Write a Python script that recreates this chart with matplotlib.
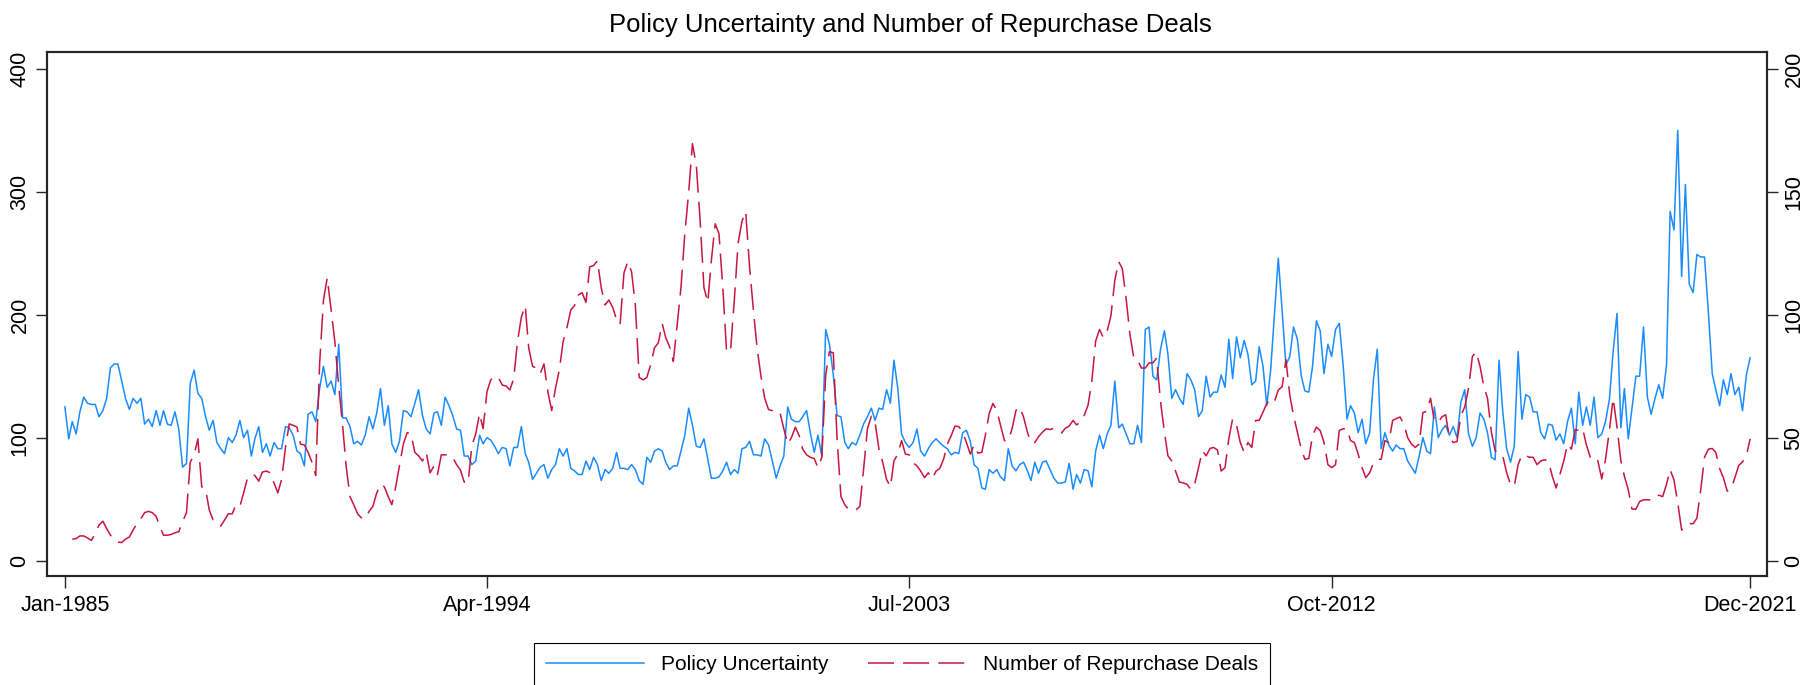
import numpy as np
import pandas as pd
import matplotlib
matplotlib.use('Agg')
import matplotlib.pyplot as plt

plt.rcParams['font.family'] = ['Liberation Sans', 'DejaVu Sans']

months = pd.date_range('1985-01-01', '2021-12-01', freq='MS')

# monthly index, left axis
policy_uncertainty = [
    125, 99, 113, 103, 121, 133, 128, 127, 127, 117, 122, 132, 157, 160, 160, 146, 132, 123, 132, 128,
    132, 111, 115, 109, 122, 110, 122, 111, 110, 121, 107, 76, 79, 144, 155, 136, 132, 117, 106, 114,
    96, 91, 87, 100,
    96, 102, 114, 100, 106, 85, 99, 109, 88, 95, 85, 96, 91, 91, 109, 108, 102, 89, 87, 77,
    119, 121, 113, 140, 158, 141, 146, 135, 176, 116, 116, 109, 95, 97, 94, 102, 117, 107, 120, 140,
    110, 126, 95, 88, 97,
    122, 121, 117, 128, 139, 118, 107, 103, 120, 121, 110, 133, 126, 118, 107, 106, 85, 85, 78, 81,
    102, 95, 100, 98, 93, 87, 92, 91, 77, 92, 92, 109, 87, 80, 66, 71, 76, 78, 67, 74,
    78, 91, 85, 91,
    75, 73, 70, 70, 81, 74, 84, 78, 65, 74, 71, 75, 88, 75, 75, 74, 78, 74, 65, 62,
    84, 80, 89, 91, 89, 80, 74, 77, 77, 89, 102, 124, 110, 93, 92, 99, 82, 67, 67, 68,
    73, 80, 70, 74, 71,
    91, 92, 97, 86, 86, 85, 99, 94, 81, 67, 77, 85, 125, 115, 113, 113, 117, 122, 104, 88,
    102, 85, 188, 176, 151, 118, 117, 96, 91, 96, 94, 102, 111, 117, 124, 114, 124, 123, 139, 128,
    163, 140, 103, 96, 92,
    96, 107, 89, 85, 91, 96, 99, 96, 93, 91, 86, 88, 87, 104, 106, 97, 78, 75, 59, 58,
    74, 71, 74, 68, 65, 91, 77, 73, 78, 80, 73, 65, 80, 71, 80, 81, 74, 67, 63, 63,
    64, 79, 58, 70,
    63, 74, 73, 60, 89, 102, 91, 103, 110, 146, 108, 111, 103, 95, 95, 110, 96, 188, 190, 150,
    147, 172, 187, 168, 132, 139, 132, 127, 152, 147, 139, 117, 122, 150, 133, 137, 137, 151, 141, 180,
    148, 182, 165, 179, 168,
    143, 146, 174, 158, 126, 155, 200, 246, 203, 159, 166, 190, 180, 150, 138, 137, 158, 195, 187, 152,
    176, 166, 188, 193, 159, 115, 126, 120, 104, 115, 95, 104, 148, 172, 91, 104, 94, 89, 94, 91,
    91, 81, 76, 71,
    85, 100, 89, 87, 125, 100, 106, 110, 102, 109, 100, 129, 139, 103, 93, 100, 120, 115, 104, 84,
    82, 163, 121, 91, 80, 93, 170, 115, 135, 133, 121, 121, 104, 99, 111, 110, 98, 103, 95, 113,
    124, 95, 137, 110, 125,
    110, 133, 100, 103, 113, 131, 170, 201, 108, 140, 99, 124, 150, 150, 190, 133, 119, 132, 143, 132,
    159, 284, 269, 350, 231, 306, 225, 218, 249, 247, 247, 202, 152, 139, 126, 147, 135, 152, 135, 141,
    122, 151, 165,
]

# deals per month, right axis (series starts in Mar-1985)
repurchase_deals = [
    np.nan, np.nan,
    8.7, 8.9, 10, 10, 9.2, 8.2, 11, 14.4, 16, 13, 10.3, 8.2, 7.5, 7.3, 8.7, 9.6, 12.4, 15,
    17, 19.5, 20, 19.5, 18, 13.7, 10.3, 10.3, 10.6, 11.3, 11.7, 15.8, 19.5, 40, 43, 49.5, 30, 29, 20.6, 16.5,
    15.8, 14, 16.5, 19,
    19, 22.7, 22, 27.5, 33.6, 35, 34.6, 32.3, 36, 36.4, 35.7, 31.6, 27.5, 33, 46, 55.6, 55, 54.3, 47.4, 47,
    44, 40, 34.6, 80, 106, 115, 102, 89, 71, 55, 38.5, 26, 22.7, 19, 17.4, 17, 20, 22, 27.5, 31,
    30, 26, 22.7, 30, 38.5,
    47.4, 52, 51.5, 44, 42.6, 40.5, 44, 35.7, 38.5, 35, 43, 43, 43, 42, 39, 36.8, 31.9, 31.6, 46.7, 51.5,
    59.8, 53.6, 68.7, 73.5, 74.9, 74.5, 71.4, 71, 69.4, 74, 89, 99, 103.7, 86.5, 79, 78.3, 76, 80, 68.7, 61,
    70, 77.6, 89, 94.8,
    102, 103.7, 108, 109, 105, 119.5, 120, 122, 111, 104, 106, 103, 98, 96, 117, 121.6, 117.4, 104, 74.5, 73.5,
    74.5, 79.7, 86.5, 88.6, 96.4, 90.7, 87, 81, 96, 111, 133, 150, 169.6, 160.7, 138.7, 111, 105, 122, 137, 133,
    111, 85, 85, 106, 129,
    138, 142, 119.5, 101.6, 86.5, 75, 66, 61.4, 61, 61.3, 60, 53.6, 47.4, 50, 54.3, 50.8, 45.3, 43, 42, 41.5,
    37.8, 42, 75.5, 85, 84.5, 49.5, 26, 22.7, 20.9, 20.3, 20.6, 22, 37, 53.6, 58.7, 56.3, 45.3, 40, 33, 30,
    40.5, 43.3, 48.8, 43.3, 43,
    39.8, 38.5, 36.4, 33.7, 35.7, 33.2, 36.4, 37.4, 41.2, 47.4, 50.8, 54.7, 54.5, 52.2, 48, 43.3, 47, 43.7, 44, 50.8,
    59.8, 63.9, 61, 55, 48.8, 48.8, 53.6, 61, 62.5, 58.4, 52.2, 48, 48, 50.4, 52.2, 53.6, 53.3, 53.8, 52.9, 51.9,
    53.8, 54.7, 57, 55.2,
    56.3, 59, 63.2, 72.8, 89.3, 94, 90.7, 93.4, 99.6, 114, 121.6, 118.8, 106.5, 92, 82.4, 81.7, 78.3, 78.3, 80.4, 80.4,
    82.4, 64.6, 52.2, 42.6, 40.5, 36.4, 31.9, 31.6, 31, 28.8, 31, 37.8, 44.6, 42.6, 45.6, 46, 45, 36.4, 37.8, 49.5,
    57.7, 55, 48, 44, 48,
    46, 57, 57, 60.4, 63.9, 65.7, 64.6, 69.4, 70.7, 81.7, 67.3, 59, 52.2, 45.3, 41.2, 41.5, 50.8, 54.3, 52.9, 48,
    39, 37.8, 39, 52.9, 53.6, 53.6, 48.8, 48, 43.3, 37.8, 33.7, 35.7, 39.8, 41.2, 41.2, 48.8, 48, 57, 57.7, 58.4,
    55.6, 50, 47.4, 46,
    47.4, 60.2, 60.7, 66, 56.6, 56.3, 58.4, 59.3, 50, 48, 48.4, 59, 62.5, 70, 83, 85, 79, 70.7, 66, 52.2,
    44.6, 44, 42.6, 35.7, 31, 30.2, 39, 43, 42.6, 42, 42, 39, 40.5, 41, 40.5, 34.3, 29.5, 35, 40.5, 47.4,
    45.3, 53.3, 52.9, 53.8, 47,
    42, 42.6, 40.5, 33.2, 41.2, 52.9, 66, 54.3, 40.5, 34.3, 28.8, 20.9, 20.9, 24, 24.7, 24.7, 24.7, 25, 26.6, 26,
    31, 37, 32.7, 23.4, 12.4, 13.7, 15, 15, 17.2, 28.8, 42, 45.3, 45.6, 44, 37.4, 33.7, 28.2, 29.1, 33.7, 38.7,
    40.1, 42.6, 49.5,
]

tick_dates = pd.to_datetime(['1985-01-01', '1994-04-01', '2003-07-01', '2012-10-01', '2021-12-01'])
tick_labels = ['Jan-1985', 'Apr-1994', 'Jul-2003', 'Oct-2012', 'Dec-2021']
left_ticks = [0, 100, 200, 300, 400]
right_ticks = [0, 50, 100, 150, 200]

blue = '#1A8CFF'
red = '#C8163F'
frame_col = '#262626'

W, H = 1820, 685
fig = plt.figure(figsize=(W / 100, H / 100), dpi=100)
ax = fig.add_axes([47 / W, 1 - 576 / H, (1767 - 47) / W, (576 - 52) / H])
ax2 = ax.twinx()

l1, = ax.plot(months, policy_uncertainty, color=blue, lw=1.1)
l2, = ax2.plot(months, repurchase_deals, color=red, lw=1.1, dashes=(17, 6))

ax.set_xlim(pd.Timestamp('1984-08-11'), pd.Timestamp('2022-04-15'))
ax.set_ylim(-12.6, 413.8)
ax2.set_ylim(-6.3, 206.9)

ax.set_xticks(tick_dates)
ax.set_xticklabels(tick_labels)
ax.set_yticks(left_ticks)
ax2.set_yticks(right_ticks)

ax.tick_params(axis='x', length=8.6, width=1, color=frame_col, pad=5, labelsize=15.5)
ax.tick_params(axis='y', length=7.9, width=1, color=frame_col, pad=4, labelsize=15.5)
ax2.tick_params(axis='y', length=7.9, width=1, color=frame_col, pad=4, labelsize=15.5)
for lab in ax.get_yticklabels():
    lab.set_rotation(90)
    lab.set_va('center')
    lab.set_ha('right')
for lab in ax2.get_yticklabels():
    lab.set_rotation(90)
    lab.set_va('center')
    lab.set_ha('left')

for a in (ax, ax2):
    for s in a.spines.values():
        s.set_color(frame_col)
        s.set_linewidth(1.5)

fig.text(0.5, 1 - 25 / H, 'Policy Uncertainty and Number of Repurchase Deals',
         ha='center', va='center', fontsize=18.5)

leg = fig.legend([l1, l2], ['Policy Uncertainty', 'Number of Repurchase Deals'],
                 loc='center', bbox_to_anchor=(902 / W, 1 - 665 / H), ncol=2,
                 frameon=True, fancybox=False, edgecolor='black', framealpha=1,
                 fontsize=15, handlelength=4.7, handletextpad=0.8,
                 columnspacing=1.9, borderpad=0.6)
leg.get_frame().set_linewidth(0.8)

fig.savefig('out.png', dpi=100)
